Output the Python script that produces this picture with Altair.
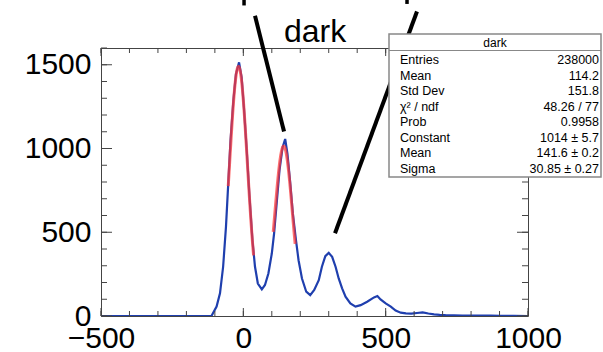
import altair as alt
import numpy as np
import pandas as pd

# ---- histogram "dark": bin centre vs. entries ----
bin_x = [-500, -112, -94, -82, -71, -61, -53, -45, -35, -26, -15, -6, 2, 12, 21,
         32, 41, 51, 65, 76, 88, 100, 108, 118, 127, 138, 147, 155, 165, 174,
         185, 194, 206, 221, 235, 249, 265, 276, 288, 300, 312, 324, 335, 347,
         359, 376, 394, 412, 435, 459, 471, 482, 500, 518, 535, 553, 571, 590,
         610, 630, 650, 670, 690, 710, 740, 770, 800, 830, 870, 900, 950, 1000]
counts = [0, 0, 56, 135, 294, 532, 790, 1048, 1286, 1444, 1514, 1425, 1246, 988, 730,
          452, 294, 194, 159, 185, 254, 373, 492, 690, 869, 1008, 1057, 968, 790, 611,
          452, 333, 224, 145, 125, 155, 214, 294, 357, 377, 353, 294, 224, 165,
          115, 75, 56, 65, 85, 111, 119, 99, 75, 56, 32, 20, 16, 14,
          18, 22, 15, 10, 7, 5, 4, 3, 3, 2, 2, 1, 1, 0]

# ---- gaussian fits (constant, mean, sigma, fit range) ----
fit_const = [1490, 1014]
fit_mean = [-17, 141.6]
fit_sigma = [31.5, 30.85]
fit_lo = [-53, 105]
fit_hi = [36, 182]

# ---- statistics box ----
stat_title = "dark"
stat_labels = ["Entries", "Mean", "Std Dev", "χ² / ndf", "Prob", "Constant", "Mean", "Sigma"]
stat_values = ["238000", "114.2", "151.8", "48.26 / 77", "0.9958", "1014 ± 5.7", "141.6 ± 0.2", "30.85 ± 0.27"]

# ---- pointer lines (data coordinates: x0, y0, x1, y1) ----
pointer_x0 = [41, 610]
pointer_y0 = [1792, 1818]
pointer_x1 = [143, 322]
pointer_y1 = [1101, 494]
stub_x = [2.5, 575]
stub_y0 = [1900, 1900]
stub_y1 = [1854, 1863]

# ---- axes ----
x_major = [-500, 0, 500, 1000]
x_minor = list(range(-500, 1001, 100))
y_major = [0, 500, 1000, 1500]
y_minor = list(range(0, 1601, 100))

W, H = 427, 268
FONT = "Liberation Sans"
xs = alt.Scale(domain=[-500, 1000], nice=False, zero=False)
ys = alt.Scale(domain=[0, 1600], nice=False, zero=False)

hist = pd.DataFrame({"x": bin_x, "n": counts})
base_line = alt.Chart(hist).mark_line(color="#1f3fae", strokeWidth=2.2, clip=True).encode(
    x=alt.X("x:Q", scale=xs, axis=alt.Axis(values=x_major, format="d", labelFontSize=30, labelFont=FONT,
                                           labelColor="black", ticks=False, domain=False, grid=False,
                                           labelFlush=False, labelOverlap=False, labelPadding=7, title=None)),
    y=alt.Y("n:Q", scale=ys, axis=alt.Axis(values=y_major, format="d", labelFontSize=30, labelFont=FONT,
                                           labelColor="black", ticks=False, domain=False, grid=False,
                                           labelOverlap=False, labelPadding=10, title=None)),
)

fit_rows = []
for k in range(len(fit_const)):
    for xv in np.linspace(fit_lo[k], fit_hi[k], 80):
        yv = fit_const[k] * np.exp(-0.5 * ((xv - fit_mean[k]) / fit_sigma[k]) ** 2)
        fit_rows.append({"x": float(xv), "f": float(yv), "fit": k})
fits = alt.Chart(pd.DataFrame(fit_rows)).mark_line(color="#ff3838", strokeWidth=3, opacity=0.72).encode(
    x=alt.X("x:Q", scale=xs), y=alt.Y("f:Q", scale=ys), detail="fit:N")


def ticks(values, side, length):
    d = pd.DataFrame({"v": values})
    m = alt.Chart(d).mark_rule(color="#444", strokeWidth=1)
    if side == "bottom":
        return m.encode(x=alt.X("v:Q", scale=xs), y=alt.value(H), y2=alt.value(H - length))
    if side == "top":
        return m.encode(x=alt.X("v:Q", scale=xs), y=alt.value(0), y2=alt.value(length))
    if side == "left":
        return m.encode(y=alt.Y("v:Q", scale=ys), x=alt.value(0), x2=alt.value(length))
    return m.encode(y=alt.Y("v:Q", scale=ys), x=alt.value(W), x2=alt.value(W - length))


tick_layers = [
    ticks(x_minor, "bottom", 5), ticks(x_major, "bottom", 8),
    ticks(x_minor, "top", 5), ticks(x_major, "top", 8),
    ticks(y_minor, "left", 6), ticks(y_major, "left", 11),
    ticks(y_minor, "right", 6), ticks(y_major, "right", 11),
]

ptr = pd.DataFrame({"x0": pointer_x0, "y0": pointer_y0, "x1": pointer_x1, "y1": pointer_y1})
pointers = alt.Chart(ptr).mark_rule(color="black", strokeWidth=4, clip=False).encode(
    x=alt.X("x0:Q", scale=xs), y=alt.Y("y0:Q", scale=ys), x2="x1:Q", y2="y1:Q")
stubs = alt.Chart(pd.DataFrame({"x": stub_x, "y0": stub_y0, "y1": stub_y1})).mark_rule(
    color="black", strokeWidth=3.5, clip=False).encode(
    x=alt.X("x:Q", scale=xs), y=alt.Y("y0:Q", scale=ys), y2="y1:Q")

title = alt.Chart(pd.DataFrame({"t": ["dark"]})).mark_text(
    font=FONT, fontSize=32, baseline="alphabetic", align="center", color="black").encode(
    text="t:N", x=alt.value(214), y=alt.value(-6))

# stats box
BX0, BX1, BY0, BY1 = 288, 500, -14, 129
box = alt.Chart(pd.DataFrame({"a": [0]})).mark_rect(
    fill="white", stroke="#888", strokeWidth=1.5).encode(
    x=alt.value(BX0), x2=alt.value(BX1), y=alt.value(BY0), y2=alt.value(BY1))
sep = alt.Chart(pd.DataFrame({"a": [0]})).mark_rule(color="#888", strokeWidth=1).encode(
    x=alt.value(BX0), x2=alt.value(BX1), y=alt.value(2.5))
box_title = alt.Chart(pd.DataFrame({"t": [stat_title]})).mark_text(
    font=FONT, fontSize=12, baseline="middle", align="center", color="black").encode(
    text="t:N", x=alt.value((BX0 + BX1) / 2), y=alt.value(-5.5))
rows = pd.DataFrame({"label": stat_labels, "value": stat_values,
                     "py": [12 + 15.5 * i for i in range(len(stat_labels))]})
row_labels = alt.Chart(rows).mark_text(
    font=FONT, fontSize=12.5, baseline="middle", align="left", color="black").encode(
    text="label:N", x=alt.value(BX0 + 11), y=alt.Y("py:Q", scale=None))
row_values = alt.Chart(rows).mark_text(
    font=FONT, fontSize=12.5, baseline="middle", align="right", color="black").encode(
    text="value:N", x=alt.value(BX1 - 2), y=alt.Y("py:Q", scale=None))

chart = alt.layer(
    base_line, fits, *tick_layers, pointers, stubs, title,
    box, sep, box_title, row_labels, row_values,
).properties(
    width=W, height=H,
    autosize=alt.AutoSizeParams(type="none"),
    padding={"left": 101, "top": 48, "right": 75, "bottom": 36},
    background="white",
).configure_view(stroke="#444", strokeWidth=1)

chart.save("out.html", embed_options={"renderer": "svg", "actions": False})
